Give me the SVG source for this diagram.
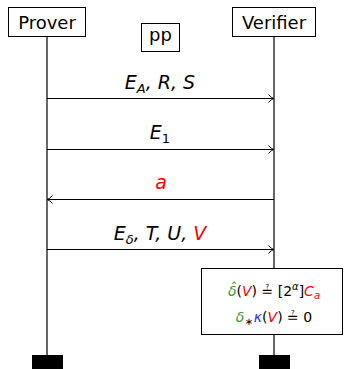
<svg xmlns="http://www.w3.org/2000/svg" width="345" height="369" viewBox="0 0 345 369">
<style>
.box{fill:#fff;stroke:#000;stroke-width:1}
.life{stroke:#000;stroke-width:1.2;fill:none}
.msg{stroke:#000;stroke-width:1;fill:none;marker-end:url(#arr)}
.t{font-family:"DejaVu Sans",sans-serif;font-size:18px;fill:#000}
.m{font-family:"DejaVu Sans",sans-serif;font-size:19px;font-style:italic;fill:#000}
.s{font-family:"DejaVu Sans",sans-serif;font-size:14px;fill:#000}
.red{fill:#ff0000}
.grn{fill:#3a9b3a}
.blu{fill:#3333ff}
</style>
<defs>
<marker id="arr" viewBox="0 0 10 10" refX="9.5" refY="5" markerWidth="10" markerHeight="10" markerUnits="userSpaceOnUse" orient="auto">
<path d="M4,1 Q7,4.5 9.5,5 Q7,5.5 4,9" fill="none" stroke="#000" stroke-width="1"/>
</marker>
</defs>
<g id="connectors">
<line class="life" x1="47" y1="37" x2="47" y2="355"/>
<line class="life" x1="274" y1="37" x2="274" y2="268"/>
<line class="life" x1="274" y1="335" x2="274" y2="355"/>
<line class="msg" x1="47" y1="98.5" x2="274" y2="98.5"/>
<line class="msg" x1="47" y1="149.5" x2="274" y2="149.5"/>
<line class="msg" x1="274" y1="199.5" x2="47" y2="199.5"/>
<line class="msg" x1="47" y1="249.5" x2="274" y2="249.5"/>
</g>
<g id="prover">
<rect class="box" x="8.5" y="7.5" width="77" height="29"/>
<text class="t" x="47" y="29" text-anchor="middle">Prover</text>
</g>
<g id="pp">
<rect class="box" x="141.5" y="23.5" width="38" height="28"/>
<text class="t" x="160.5" y="41" text-anchor="middle">pp</text>
</g>
<g id="verifier">
<rect class="box" x="232.5" y="7.5" width="83" height="29"/>
<text class="t" x="274" y="29" text-anchor="middle">Verifier</text>
</g>
<g id="labels">
<text class="m" x="160" y="89" text-anchor="middle">E<tspan font-size="13" dy="4">A</tspan><tspan dy="-4">, R, S</tspan></text>
<text class="m" x="160" y="139" text-anchor="middle">E<tspan font-size="13" font-style="normal" dy="4">1</tspan></text>
<text class="m red" x="161" y="189" text-anchor="middle">a</text>
<text class="m" x="160" y="240" text-anchor="middle">E<tspan font-size="13" dy="4">δ</tspan><tspan dy="-4">, T, U, </tspan><tspan class="red">V</tspan></text>
</g>
<g id="check">
<rect class="box" x="201.5" y="268.5" width="141" height="66"/>
<text class="s" x="274" y="296" text-anchor="middle"><tspan class="grn" font-style="italic">δ̂</tspan>(<tspan class="red" font-style="italic">V</tspan>) ≟ [2<tspan font-size="10" dy="-6" font-style="italic">α</tspan><tspan dy="6">]</tspan><tspan class="red" font-style="italic">C<tspan font-size="10" dy="3">a</tspan></tspan></text>
<text class="s" x="274" y="322" text-anchor="middle"><tspan class="grn" font-style="italic">δ</tspan><tspan font-size="10" dy="3">∗</tspan><tspan class="blu" font-style="italic" dy="-3" dx="1">κ</tspan>(<tspan class="red" font-style="italic">V</tspan>) ≟ 0</text>
</g>
<rect x="32" y="355" width="31" height="14" fill="#000"/>
<rect x="259" y="355" width="31" height="14" fill="#000"/>
</svg>
